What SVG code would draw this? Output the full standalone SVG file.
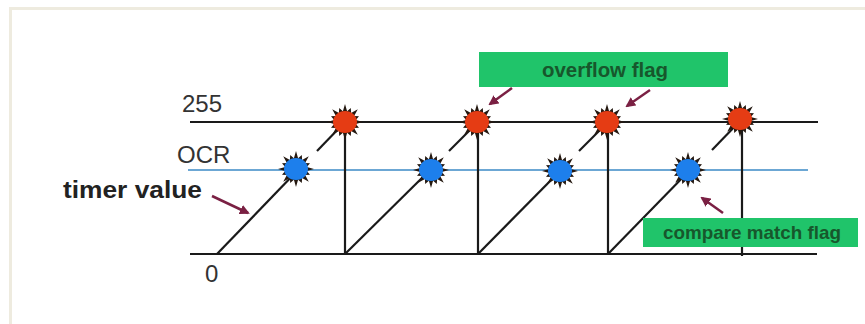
<svg xmlns="http://www.w3.org/2000/svg" xmlns:xlink="http://www.w3.org/1999/xlink" width="865" height="324" viewBox="0 0 865 324">
  <style>
    .frame { fill: #ffffff; stroke: #eeebdf; stroke-width: 3; }
    .axis { stroke: #1a1a1a; stroke-width: 2; fill: none; }
    .ocr { stroke: #3b8ac6; stroke-width: 1.5; fill: none; }
    .ramp { stroke: #1a1a1a; stroke-width: 2.2; fill: none; }
    .ptr { stroke: #7a2043; stroke-width: 2.5; fill: none; marker-end: url(#tip); }
    .lvl { font-family: "Liberation Sans", Arial, sans-serif; font-size: 24px; fill: #333333; }
    .lbl { font-family: "Liberation Sans", Arial, sans-serif; font-size: 24px; font-weight: bold; fill: #222222; }
    .tag { fill: #20c46a; }
    .tagtxt { font-family: "Liberation Sans", Arial, sans-serif; font-weight: bold; fill: #17572c; text-anchor: middle; }
    .spk { fill: #241810; }
    .red { fill: #e53c14; }
    .blue { fill: #1d7fec; }
  </style>
  <defs>
    <marker id="tip" viewBox="0 0 10 10" refX="8" refY="5" markerWidth="4" markerHeight="4" orient="auto" markerUnits="strokeWidth">
      <path d="M0,0 L10,5 L0,10 z" fill="#7a2043"/>
    </marker>
    <polygon id="spikes" points="18,0 10.8,2.1 14,5.8 9.1,6.1 12.8,12.8 6.1,9.1 5.8,14 2.1,10.8 0,18 -2.1,10.8 -5.8,14 -6.1,9.1 -12.8,12.8 -9.1,6.1 -14,5.8 -10.8,2.1 -18,0 -10.8,-2.1 -14,-5.8 -9.1,-6.1 -12.8,-12.8 -6.1,-9.1 -5.8,-14 -2.1,-10.8 0,-18 2.1,-10.8 5.8,-14 6.1,-9.1 12.8,-12.8 9.1,-6.1 14,-5.8 10.8,-2.1"/>
  </defs>

  <!-- slide frame -->
  <rect class="frame" x="10.5" y="8.5" width="900" height="400"/>

  <!-- level lines and sawtooth -->
  <g id="connectors">
    <line class="axis" x1="190" y1="122" x2="818" y2="122"/>
    <line class="ocr" x1="188" y1="170" x2="808" y2="170"/>
    <line class="axis" x1="190" y1="254" x2="817" y2="254"/>

    <!-- rising ramps (split where the compare burst sits) -->
    <line class="ramp" x1="217" y1="254" x2="298" y2="170"/>
    <line class="ramp" x1="317" y1="151" x2="345" y2="122"/>
    <line class="ramp" x1="345" y1="254" x2="430" y2="170"/>
    <line class="ramp" x1="449" y1="151" x2="478" y2="122"/>
    <line class="ramp" x1="478" y1="254" x2="561" y2="170"/>
    <line class="ramp" x1="579" y1="151" x2="608" y2="122"/>
    <line class="ramp" x1="608" y1="254" x2="690" y2="170"/>
    <line class="ramp" x1="712" y1="150" x2="741" y2="120"/>

    <!-- resets back to zero -->
    <line class="ramp" x1="345" y1="122" x2="345" y2="254"/>
    <line class="ramp" x1="478" y1="122" x2="478" y2="254"/>
    <line class="ramp" x1="608" y1="122" x2="608" y2="254"/>
    <line class="ramp" x1="742" y1="120" x2="742" y2="256"/>

    <!-- pointer arrows -->
    <line class="ptr" x1="212" y1="196" x2="248" y2="213"/>
    <line class="ptr" x1="512" y1="88" x2="490" y2="104"/>
    <line class="ptr" x1="650" y1="90" x2="627" y2="106"/>
    <line class="ptr" x1="723" y1="213" x2="702" y2="198"/>
  </g>

  <!-- compare match bursts -->
  <g id="cmp1" transform="translate(296,169)"><use xlink:href="#spikes" class="spk"/><ellipse class="blue" rx="12" ry="11"/></g>
  <g id="cmp2" transform="translate(431,170)"><use xlink:href="#spikes" class="spk"/><ellipse class="blue" rx="12" ry="11"/></g>
  <g id="cmp3" transform="translate(560,171)"><use xlink:href="#spikes" class="spk"/><ellipse class="blue" rx="12" ry="11"/></g>
  <g id="cmp4" transform="translate(688,170)"><use xlink:href="#spikes" class="spk"/><ellipse class="blue" rx="12" ry="11"/></g>

  <!-- overflow bursts -->
  <g id="ovf1" transform="translate(345,122)"><use xlink:href="#spikes" class="spk"/><ellipse class="red" rx="12" ry="11"/></g>
  <g id="ovf2" transform="translate(477,122)"><use xlink:href="#spikes" class="spk"/><ellipse class="red" rx="12" ry="11"/></g>
  <g id="ovf3" transform="translate(607,122)"><use xlink:href="#spikes" class="spk"/><ellipse class="red" rx="12" ry="11"/></g>
  <g id="ovf4" transform="translate(740,119)"><use xlink:href="#spikes" class="spk"/><ellipse class="red" rx="12" ry="11"/></g>

  <!-- axis labels -->
  <g id="labels">
    <text class="lvl" x="182" y="112">255</text>
    <text class="lvl" x="177" y="163">OCR</text>
    <text class="lvl" x="205" y="282" fill="#222222">0</text>
    <text class="lbl" x="63" y="198" textLength="139" lengthAdjust="spacingAndGlyphs">timer value</text>
  </g>

  <!-- flag callouts -->
  <g id="overflow-flag">
    <rect class="tag" x="479" y="52" width="249" height="35"/>
    <text class="tagtxt" x="605" y="77" font-size="20" textLength="126" lengthAdjust="spacingAndGlyphs">overflow flag</text>
  </g>
  <g id="compare-flag">
    <rect class="tag" x="643" y="218" width="215" height="29"/>
    <text class="tagtxt" x="752" y="239" font-size="19" textLength="178" lengthAdjust="spacingAndGlyphs">compare match flag</text>
  </g>
</svg>
